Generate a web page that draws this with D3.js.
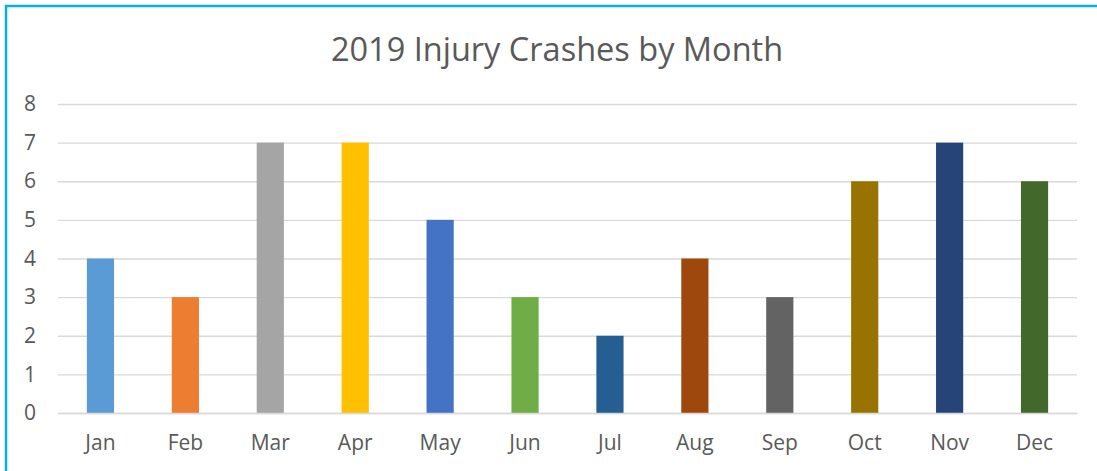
<!DOCTYPE html>
<html>
<head>
<meta charset="utf-8">
<script src="https://cdn.jsdelivr.net/npm/d3@7"></script>
<style>
  body { margin: 0; background: #fff; }
  svg text { font-family: "Open Sans", sans-serif; fill: #595959; }
</style>
</head>
<body>
<div id="chart"></div>
<script>
// data
const months = ['Jan', 'Feb', 'Mar', 'Apr', 'May', 'Jun', 'Jul', 'Aug', 'Sep', 'Oct', 'Nov', 'Dec']
const crashes = [4, 3, 7, 7, 5, 3, 2, 4, 3, 6, 7, 6]
const barColors = ['#5B9BD5', '#ED7D31', '#A5A5A5', '#FFC000', '#4472C4', '#70AD47',
    '#255E91', '#9E480E', '#636363', '#997300', '#264478', '#43682B']
const yTicks = [0, 1, 2, 3, 4, 5, 6, 7, 8]

const width = 1097
const height = 471
const margin = ({ top: 104, right: 20, bottom: 58, left: 58 })

const svg = d3.select('#chart')
    .append('svg')
    .attr('width', width)
    .attr('height', height)

// frame (only top/left edges show in the crop)
svg.append('path')
    .attr('d', `M6,${height} V6 H${width}`)
    .attr('fill', 'none')
    .attr('stroke', '#00B0F0')
    .attr('stroke-width', 2.5)

const x = d3.scaleBand()
    .domain(months)
    .range([margin.left, width - margin.right])
    .paddingInner(0.68)
    .paddingOuter(0.34)

const y = d3.scaleLinear()
    .domain([0, 8])
    .range([height - margin.bottom, margin.top])

// gridlines + y labels
const yAxis = g => g
    .attr('transform', `translate(${margin.left},0)`)
    .call(d3.axisLeft(y).tickValues(yTicks).tickSize(-(width - margin.left - margin.right)).tickPadding(28))
    .call(g => g.select('.domain').remove())
    .call(g => g.selectAll('.tick line').attr('stroke', '#D9D9D9').attr('stroke-width', 1.3))
    .call(g => g.selectAll('.tick text').attr('font-size', 21).attr('text-anchor', 'middle'))

svg.append('g').call(yAxis)

svg.append('g')
    .selectAll('rect')
    .data(crashes)
    .join('rect')
    .attr('x', (d, i) => x(months[i]))
    .attr('y', d => y(d))
    .attr('width', x.bandwidth())
    .attr('height', d => y(0) - y(d))
    .attr('fill', (d, i) => barColors[i])

const xAxis = g => g
    .attr('transform', `translate(0,${height - margin.bottom})`)
    .call(d3.axisBottom(x).tickSize(0).tickPadding(22))
    .call(g => g.select('.domain').attr('stroke', '#D9D9D9').attr('stroke-width', 1.5))
    .call(g => g.selectAll('.tick text').attr('font-size', 21))

svg.append('g').call(xAxis)

// title
svg.append('text')
    .attr('x', 557)
    .attr('y', 61)
    .attr('text-anchor', 'middle')
    .attr('font-size', 32.5)
    .text('2019 Injury Crashes by Month')
</script>
</body>
</html>
